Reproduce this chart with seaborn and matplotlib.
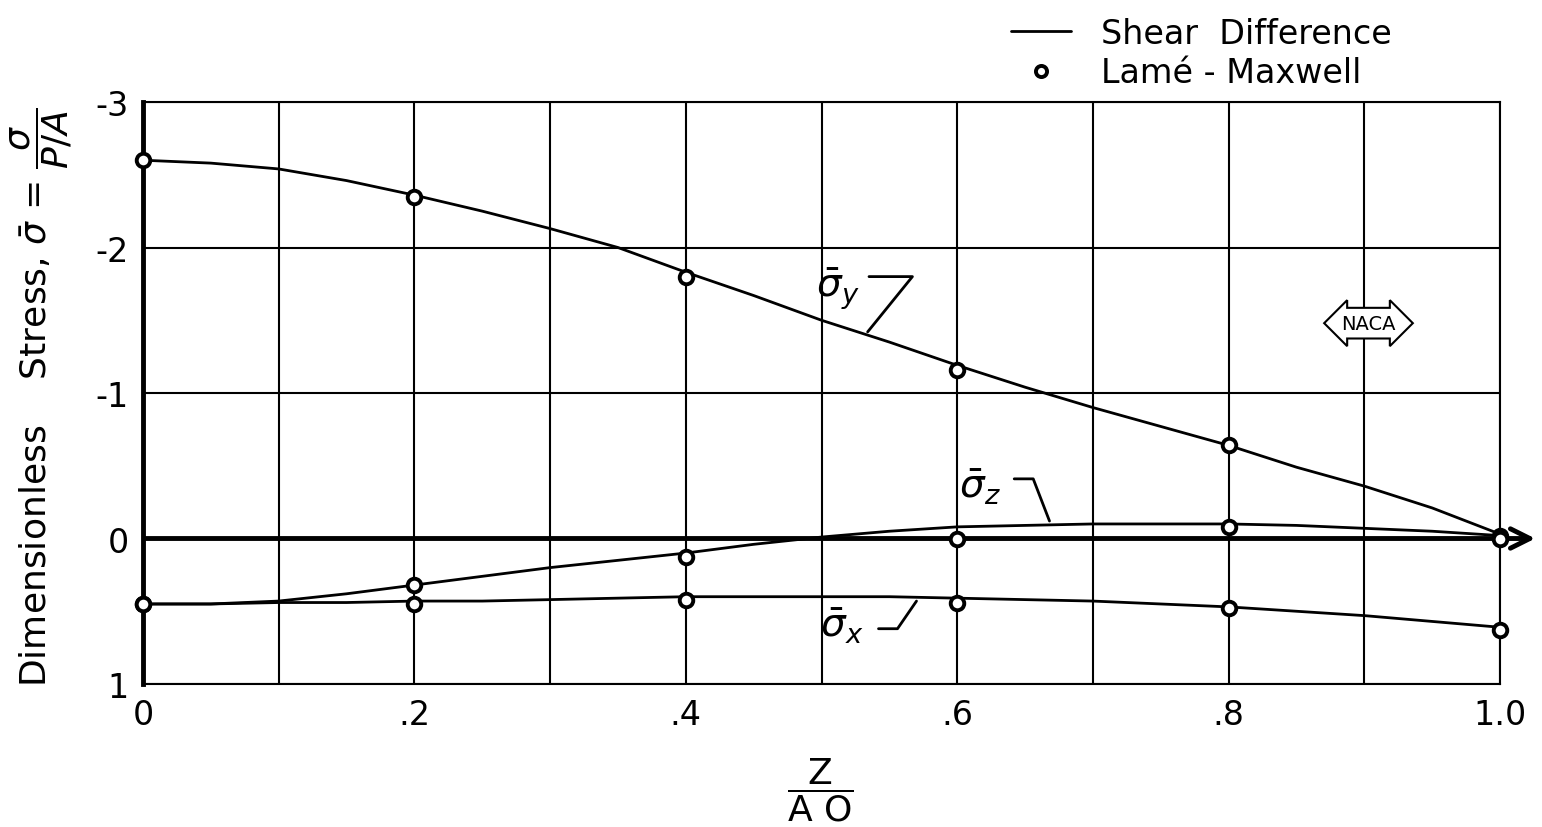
import numpy as np
import pandas as pd
import seaborn as sns
import matplotlib.pyplot as plt
from matplotlib.lines import Line2D

# valeurs (axe y inversé : -3 en haut)
z_line = [0.00, 0.05, 0.10, 0.15, 0.20, 0.25, 0.30, 0.35, 0.40, 0.45, 0.50,
          0.55, 0.60, 0.65, 0.70, 0.75, 0.80, 0.85, 0.90, 0.95, 1.00]
sigma_y = [-2.60, -2.58, -2.54, -2.46, -2.36, -2.25, -2.13, -2.00, -1.83, -1.67, -1.50,
           -1.35, -1.19, -1.04, -0.90, -0.77, -0.64, -0.49, -0.36, -0.21, -0.03]
sigma_z = [0.45, 0.45, 0.43, 0.38, 0.32, 0.26, 0.20, 0.15, 0.10, 0.04, -0.01,
           -0.05, -0.08, -0.09, -0.10, -0.10, -0.10, -0.09, -0.07, -0.05, -0.02]
sigma_x = [0.45, 0.45, 0.44, 0.44, 0.43, 0.43, 0.42, 0.41, 0.40, 0.40, 0.40,
           0.40, 0.41, 0.42, 0.43, 0.45, 0.47, 0.50, 0.53, 0.57, 0.61]

# points Lamé-Maxwell
z_pts = [0.0, 0.2, 0.4, 0.6, 0.8, 1.0]
lm_y = [-2.60, -2.35, -1.80, -1.16, -0.64, -0.02]
lm_z = [0.45, 0.32, 0.13, 0.00, -0.08, 0.00]
lm_x = [0.45, 0.45, 0.42, 0.44, 0.48, 0.63]

x_ticks = [0.0, 0.2, 0.4, 0.6, 0.8, 1.0]
x_ticklabels = ["0", ".2", ".4", ".6", ".8", "1.0"]
y_ticks = [-3, -2, -1, 0, 1]
y_ticklabels = ["-3", "-2", "-1", "0", "1"]

sns.set_style("white")
plt.rcParams["font.family"] = ["DejaVu Sans"]
plt.rcParams["text.color"] = "black"
plt.rcParams["xtick.color"] = "black"
plt.rcParams["ytick.color"] = "black"

df_lines = pd.concat([
    pd.DataFrame({"z": z_line, "s": sigma_y, "comp": "y"}),
    pd.DataFrame({"z": z_line, "s": sigma_z, "comp": "z"}),
    pd.DataFrame({"z": z_line, "s": sigma_x, "comp": "x"}),
])
df_pts = pd.concat([
    pd.DataFrame({"z": z_pts, "s": lm_y, "comp": "y"}),
    pd.DataFrame({"z": z_pts, "s": lm_z, "comp": "z"}),
    pd.DataFrame({"z": z_pts, "s": lm_x, "comp": "x"}),
])

fig = plt.figure(figsize=(15.42, 8.28), dpi=100)
ax = fig.add_axes([0.0927, 0.1727, 0.8801, 0.7029])

sns.lineplot(data=df_lines, x="z", y="s", units="comp", estimator=None,
             color="black", lw=2, sort=False, ax=ax, zorder=4)
sns.scatterplot(data=df_pts, x="z", y="s", marker="o", s=95, facecolor="white",
                edgecolor="black", linewidth=2.8, ax=ax, zorder=6, clip_on=False)

ax.set_xlim(0, 1.0)
ax.set_ylim(1, -3)
ax.set_xticks(x_ticks)
ax.set_xticklabels(x_ticklabels, fontsize=24)
ax.set_xticks(np.arange(0.1, 1.0, 0.2), minor=True)
ax.set_yticks(y_ticks)
ax.set_yticklabels(y_ticklabels, fontsize=24)
ax.tick_params(which="both", length=0, pad=10)
ax.grid(True, which="both", color="black", lw=1.5)
ax.set_xlabel("")
ax.set_ylabel("")
for side in ["top", "right", "bottom"]:
    ax.spines[side].set_linewidth(1.5)
    ax.spines[side].set_color("black")
ax.spines["left"].set_linewidth(3.5)
ax.spines["left"].set_color("black")

# axe zéro épais avec flèche
ax.annotate("", xy=(1.028, 0), xytext=(0, 0), annotation_clip=False,
            arrowprops=dict(arrowstyle="->", lw=3.5, color="black", mutation_scale=35),
            zorder=5)

# étiquettes des courbes
ax.text(0.512, -1.72, r"$\bar{\sigma}_y$", fontsize=28, ha="center", va="center")
ax.plot([0.535, 0.567, 0.534], [-1.80, -1.80, -1.42], color="black", lw=2)
ax.text(0.617, -0.36, r"$\bar{\sigma}_z$", fontsize=28, ha="center", va="center")
ax.plot([0.642, 0.656, 0.668], [-0.41, -0.41, -0.12], color="black", lw=2)
ax.text(0.515, 0.60, r"$\bar{\sigma}_x$", fontsize=28, ha="center", va="center")
ax.plot([0.542, 0.556, 0.570], [0.62, 0.62, 0.43], color="black", lw=2)

# logo NACA
ax.text(0.903, -1.48, "NACA", fontsize=14, ha="center", va="center",
        bbox=dict(boxstyle="darrow,pad=0.3", fc="white", ec="black", lw=1.5))

# légende
handles = [Line2D([], [], color="black", lw=2),
           Line2D([], [], marker="o", ls="", markersize=8, markerfacecolor="white",
                  markeredgecolor="black", markeredgewidth=2.8)]
fig.legend(handles, ["Shear  Difference", "Lamé - Maxwell"], loc="upper left",
           bbox_to_anchor=(0.636, 1.015), frameon=False, fontsize=24,
           handlelength=1.8, labelspacing=0.2, handletextpad=0.9)

# titres des axes
fig.text(0.027, 0.52, r"Dimensionless    Stress, $\bar{\sigma}$ = $\dfrac{\sigma}{P/A}$",
         rotation=90, fontsize=26, ha="center", va="center")
fig.text(0.532, 0.045, r"$\dfrac{\mathrm{Z}}{\mathrm{A\ O}}$", fontsize=26,
         ha="center", va="center")

plt.savefig("out.png", dpi=100)
